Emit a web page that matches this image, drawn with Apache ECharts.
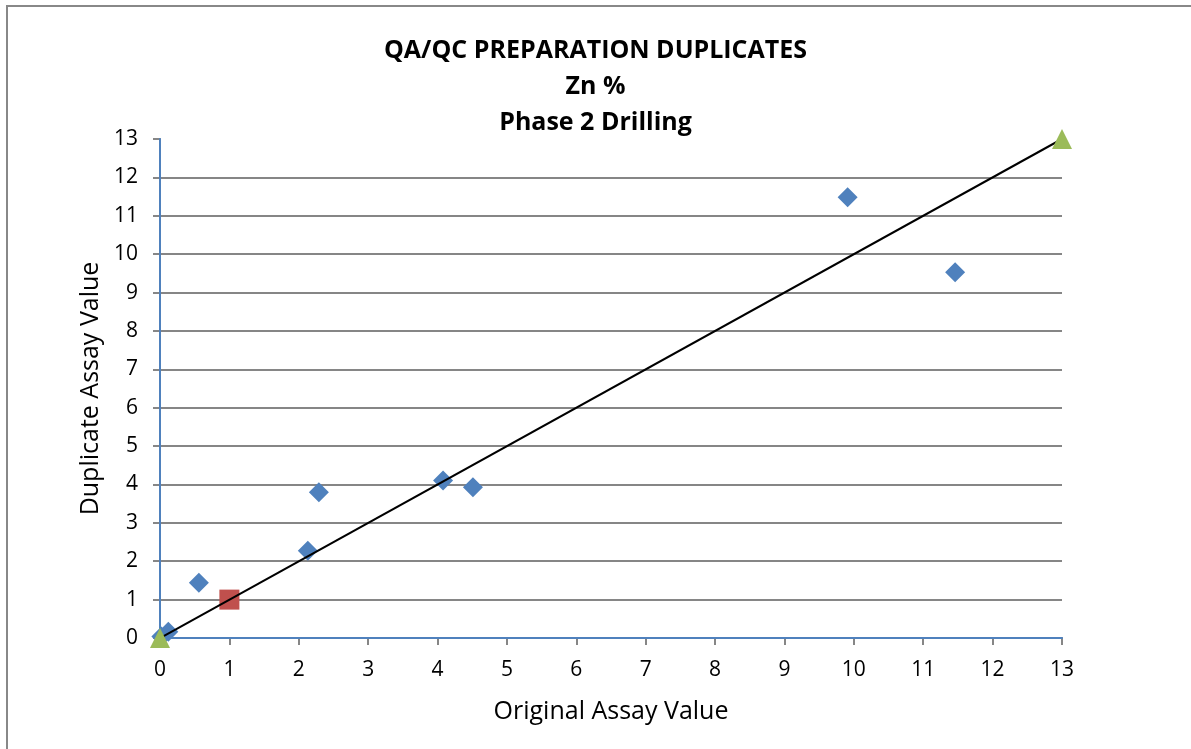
<!DOCTYPE html>
<html><head><meta charset="utf-8">
<script src="https://cdn.jsdelivr.net/npm/echarts@6/dist/echarts.min.js"></script>
<style>html,body{margin:0;padding:0;background:#fff}#c{width:1191px;height:749px}</style>
</head><body><div id="c"></div>
<script>
const titleLines = ['QA/QC PREPARATION DUPLICATES', 'Zn %', 'Phase 2 Drilling'];
const xName = 'Original Assay Value';
const yName = 'Duplicate Assay Value';
const dupX = [0.02, 0.12, 0.56, 2.13, 2.29, 4.08, 4.51, 9.91, 11.46];
const dupY = [0.04, 0.16, 1.44, 2.27, 3.80, 4.10, 3.93, 11.48, 9.53];
const refX = [1];
const refY = [1];
const lineX = [0, 13];
const lineY = [0, 13];

const zip = (a, b) => a.map((v, i) => [v, b[i]]);
const chart = echarts.init(document.getElementById('c'));
const font = 'Open Sans';
const frameAxis = { show: true, lineStyle: { color: '#4F81BD', width: 2 } };
chart.setOption({
  animation: false,
  title: {
    text: titleLines.join('\n'),
    left: 'center', top: 28,
    textStyle: { fontFamily: font, fontWeight: 'bold', fontSize: 25, lineHeight: 36, color: '#000' }
  },
  graphic: [
    { type: 'line', shape: { x1: 7, y1: 6, x2: 7, y2: 760 }, style: { stroke: '#888', lineWidth: 2 } },
    { type: 'line', shape: { x1: 6, y1: 6, x2: 1200, y2: 6 }, style: { stroke: '#888', lineWidth: 2 } }
  ],
  grid: { left: 160, top: 139, right: 129, bottom: 111 },
  xAxis: [{
    type: 'value', min: 0, max: 13, interval: 1,
    name: xName, nameLocation: 'middle', nameGap: 61,
    nameTextStyle: { fontFamily: font, fontSize: 25, color: '#000' },
    axisLine: { lineStyle: { color: '#868686', width: 2 } },
    axisTick: { show: true, length: 7, lineStyle: { color: '#868686', width: 2 } },
    axisLabel: { fontFamily: font, fontSize: 21, color: '#000', margin: 22 },
    splitLine: { show: false }
  }, {
    type: 'value', min: 0, max: 13, interval: 1, position: 'top', z: 5,
    axisLine: frameAxis, axisTick: { show: false }, axisLabel: { show: false }, splitLine: { show: false }
  }],
  yAxis: [{
    type: 'value', min: 0, max: 13, interval: 1, z: 0,
    name: yName, nameLocation: 'middle', nameGap: 47,
    nameTextStyle: { fontFamily: font, fontSize: 25, color: '#000' },
    axisLine: { show: true, lineStyle: { color: '#868686', width: 2 } },
    axisTick: { show: true, length: 7, lineStyle: { color: '#868686', width: 2 } },
    axisLabel: { fontFamily: font, fontSize: 21, color: '#000', margin: 22 },
    splitLine: { show: true, showMaxLine: false, showMinLine: false, lineStyle: { color: '#868686', width: 2 } }
  }, {
    type: 'value', min: 0, max: 13, interval: 1, position: 'right', z: 5,
    axisLine: frameAxis, axisTick: { show: false }, axisLabel: { show: false }, splitLine: { show: false }
  }],
  series: [
    { type: 'scatter', data: zip(dupX, dupY), symbol: 'diamond', symbolSize: 20, itemStyle: { color: '#4F81BD', opacity: 1 }, z: 3 },
    { type: 'scatter', data: zip(refX, refY), symbol: 'rect', symbolSize: 20, itemStyle: { color: '#C0504D', opacity: 1 }, z: 4 },
    { type: 'line', data: zip(lineX, lineY), symbol: 'triangle', symbolSize: 20, showSymbol: true,
      itemStyle: { color: '#9BBB59', opacity: 1 }, lineStyle: { color: '#000', width: 2 }, z: 6, clip: false }
  ]
});
</script></body></html>
